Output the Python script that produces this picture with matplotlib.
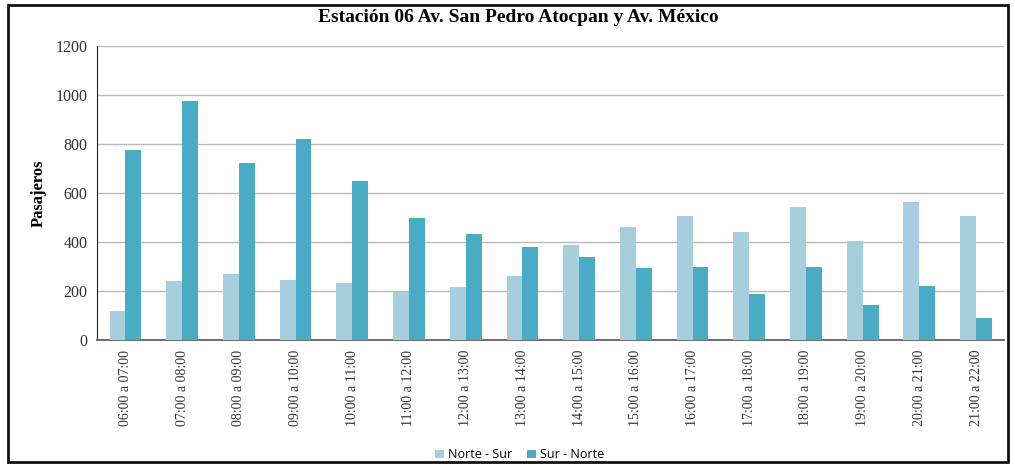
import numpy as np
import matplotlib.pyplot as plt
from matplotlib.patches import Rectangle

# datos
horarios = ['06:00 a 07:00', '07:00 a 08:00', '08:00 a 09:00', '09:00 a 10:00',
            '10:00 a 11:00', '11:00 a 12:00', '12:00 a 13:00', '13:00 a 14:00',
            '14:00 a 15:00', '15:00 a 16:00', '16:00 a 17:00', '17:00 a 18:00',
            '18:00 a 19:00', '19:00 a 20:00', '20:00 a 21:00', '21:00 a 22:00']
norte_sur = [120, 240, 270, 245, 235, 195, 215, 260, 390, 460, 505, 440, 545, 405, 565, 505]
sur_norte = [775, 975, 725, 820, 650, 500, 435, 380, 340, 295, 300, 190, 300, 145, 220, 90]
yticks = [0, 200, 400, 600, 800, 1000, 1200]

fig = plt.figure(figsize=(10.15, 4.66), dpi=100)
ax = fig.add_axes([0.0956, 0.27, 0.894, 0.631])

x = np.arange(len(horarios))
w = 0.28
ax.bar(x - w / 2, norte_sur, w, color='#a7cedc', label='Norte - Sur', zorder=3)
ax.bar(x + w / 2, sur_norte, w, color='#4aabc5', label='Sur - Norte', zorder=3)

ax.set_xlim(-0.5, len(horarios) - 0.5)
ax.set_ylim(0, 1200)
ax.set_yticks(yticks)
ax.set_yticklabels([str(v) for v in yticks], family='Liberation Serif', fontsize=11.5, color='#333333')
ax.set_xticks(x)
ax.set_xticklabels(horarios, rotation=90, family='Liberation Serif', fontsize=10, color='#333333')
ax.tick_params(length=0, pad=7)
ax.yaxis.grid(True, color='#bbbbbb', linewidth=1, zorder=0)

for s in ['top', 'right']:
    ax.spines[s].set_visible(False)
ax.spines['left'].set_color('#222222')
ax.spines['bottom'].set_color('#555555')
ax.spines['bottom'].set_linewidth(1.2)

ax.set_ylabel('Pasajeros', family='Liberation Serif', fontweight='bold', fontsize=12, labelpad=6)
fig.text(0.511, 0.962, 'Estación 06 Av. San Pedro Atocpan y Av. México',
         family='Liberation Serif', fontweight='bold', fontsize=14, ha='center', va='center')

fig.legend(loc='center', bbox_to_anchor=(0.512, 0.024), ncol=2, frameon=False,
           prop={'family': 'Open Sans', 'size': 9}, handlelength=0.7, handleheight=0.7,
           handletextpad=0.3, columnspacing=1.2)

# marco exterior
fig.patches.append(Rectangle((0.008, 0.009), 0.985, 0.981, transform=fig.transFigure,
                             fill=False, edgecolor='#111111', linewidth=2))

fig.savefig('out.png', dpi=100)
